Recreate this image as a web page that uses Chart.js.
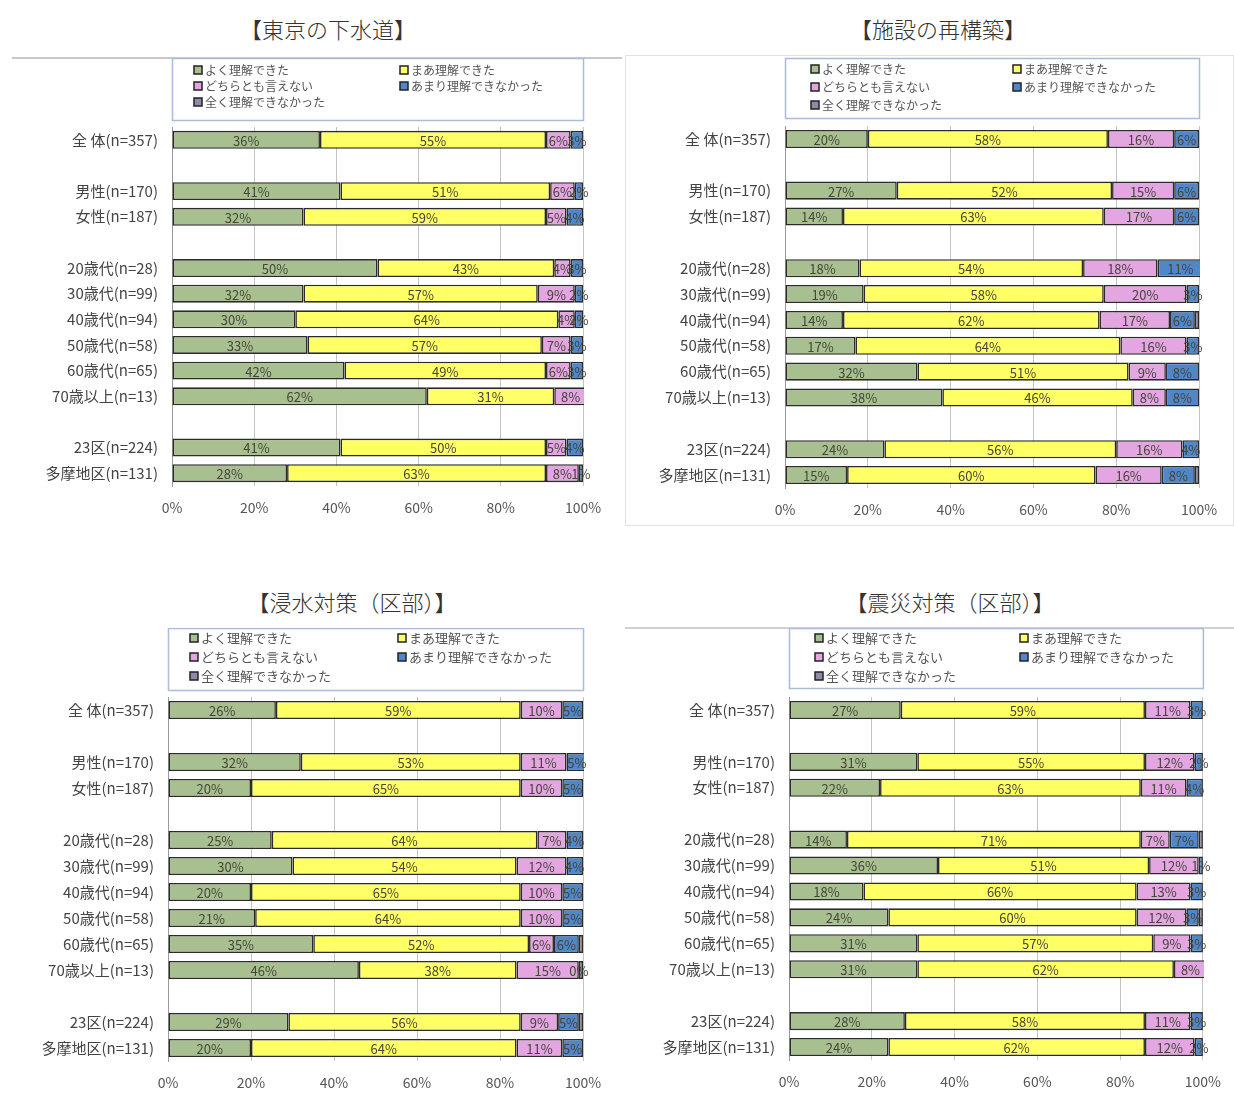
<!DOCTYPE html>
<html>
<head>
<meta charset="utf-8">
<script src="https://cdn.jsdelivr.net/npm/chart.js@4/dist/chart.umd.min.js"></script>
<style>
  body { margin:0; background:#fff; width:1234px; height:1095px; position:relative; overflow:hidden;
         font-family:"Noto Sans CJK JP","Noto Sans",sans-serif; }
  .title { position:absolute; font-size:22px; font-weight:300; color:#333; transform:translate(-50%,-50%); white-space:nowrap; }
  canvas { position:absolute; }
  .line { position:absolute; }
</style>
</head>
<body>
<div class="line" style="left:12px;top:57px;width:610px;height:0;border-top:2px solid #c8c8c8"></div>
<div class="line" style="left:625px;top:55px;width:607px;height:469px;border:1px solid #e2e2e2"></div>
<div class="line" style="left:625px;top:627px;width:609px;height:0;border-top:2px solid #d0d0d0"></div>

<div class="title" style="left:328px;top:28px">【東京の下水道】</div>
<div class="title" style="left:938px;top:28px">【施設の再構築】</div>
<div class="title" style="left:352px;top:601px">【浸水対策（区部）】</div>
<div class="title" style="left:950px;top:601px">【震災対策（区部）】</div>

<canvas id="c1"></canvas>
<canvas id="c2"></canvas>
<canvas id="c3"></canvas>
<canvas id="c4"></canvas>

<script>
// Row labels shared by all four charts (empty strings are spacer rows)
const categories = ['全 体(n=357)', '', '男性(n=170)', '女性(n=187)', '',
  '20歳代(n=28)', '30歳代(n=99)', '40歳代(n=94)', '50歳代(n=58)', '60歳代(n=65)', '70歳以上(n=13)', '',
  '23区(n=224)', '多摩地区(n=131)'];
const seriesNames = ['よく理解できた', 'まあ理解できた', 'どちらとも言えない', 'あまり理解できなかった', '全く理解できなかった'];
const seriesColors = ['#a8c08f', '#ffff66', '#e3a6e0', '#4f87c9', '#8e8aa8'];
const tickLabels = ['0%', '20%', '40%', '60%', '80%', '100%'];

// 【東京の下水道】
const sewerGood    = [36, null, 41, 32, null, 50, 32, 30, 33, 42, 62, null, 41, 28];
const sewerFair    = [55, null, 51, 59, null, 43, 57, 64, 57, 49, 31, null, 50, 63];
const sewerNeutral = [ 6, null,  6,  5, null,  4,  9,  4,  7,  6,  8, null,  5,  8];
const sewerPoor    = [ 3, null,  2,  4, null,  3,  2,  2,  3,  3, null, null, 4,  1];
const sewerNone    = [ 0, null,  0,  0, null,  0,  0,  0,  0,  0,  0, null,  0,  0];

// 【施設の再構築】
const rebuildGood    = [20, null, 27, 14, null, 18, 19, 14, 17, 32, 38, null, 24, 15];
const rebuildFair    = [58, null, 52, 63, null, 54, 58, 62, 64, 51, 46, null, 56, 60];
const rebuildNeutral = [16, null, 15, 17, null, 18, 20, 17, 16,  9,  8, null, 16, 16];
const rebuildPoor    = [ 6, null,  6,  6, null, 11,  3,  6,  3,  8,  8, null,  4,  8];
const rebuildNone    = [ 0, null,  0,  0, null,  0,  0,  1,  0,  0,  0, null,  0,  1];

// 【浸水対策（区部）】
const floodGood    = [26, null, 32, 20, null, 25, 30, 20, 21, 35, 46, null, 29, 20];
const floodFair    = [59, null, 53, 65, null, 64, 54, 65, 64, 52, 38, null, 56, 64];
const floodNeutral = [10, null, 11, 10, null,  7, 12, 10, 10,  6, 15, null,  9, 11];
const floodPoor    = [ 5, null,  5,  5, null,  4,  4,  5,  5,  6,  0, null,  5,  5];
const floodNone    = [ 0, null,  0,  0, null,  0,  0,  0,  0,  1,  1, null,  1,  0];

// 【震災対策（区部）】
const quakeGood    = [27, null, 31, 22, null, 14, 36, 18, 24, 31, 31, null, 28, 24];
const quakeFair    = [59, null, 55, 63, null, 71, 51, 66, 60, 57, 62, null, 58, 62];
const quakeNeutral = [11, null, 12, 11, null,  7, 12, 13, 12,  9,  8, null, 11, 12];
const quakePoor    = [ 3, null,  2,  4, null,  7,  1,  3,  3,  3, null, null, 3,  2];
const quakeNone    = [ 0, null,  0,  0, null,  1,  0,  0,  1,  0,  0, null,  0,  0];

const FONT = '"Noto Sans CJK JP","Noto Sans",sans-serif';
Chart.defaults.font.family = FONT;

// Boxed two-column legend drawn above the plot area
const legendBox = {
  id: 'legendBox',
  afterDraw(chart, args, o) {
    const ctx = chart.ctx, a = chart.chartArea;
    ctx.save();
    ctx.strokeStyle = '#a9bcd8';
    ctx.lineWidth = 1.5;
    ctx.strokeRect(a.left + 0.5, o.top + 0.5, a.right - a.left, o.bottom - o.top);
    ctx.font = o.fontSize + 'px ' + FONT;
    ctx.textBaseline = 'middle';
    chart.data.datasets.forEach((ds, i) => {
      const col = i % 2, row = Math.floor(i / 2);
      const ix = a.left + o.col1 + col * o.colGap;
      const iy = o.top + o.rowStart + row * o.rowGap;
      ctx.fillStyle = ds.backgroundColor;
      ctx.fillRect(ix, iy - 4, 8, 8);
      ctx.strokeStyle = '#222';
      ctx.lineWidth = 1.5;
      ctx.strokeRect(ix, iy - 4, 8, 8);
      ctx.fillStyle = '#555';
      ctx.fillText(ds.label, ix + 11, iy);
    });
    ctx.restore();
  }
};

// Percentage text centred on each segment
const segLabels = {
  id: 'segLabels',
  afterDatasetsDraw(chart) {
    const ctx = chart.ctx;
    ctx.save();
    ctx.font = '13px ' + FONT;
    ctx.fillStyle = '#45453a';
    ctx.textAlign = 'center';
    ctx.textBaseline = 'middle';
    chart.data.datasets.forEach((ds, di) => {
      if (di > 3) return;
      chart.getDatasetMeta(di).data.forEach((bar, i) => {
        const v = ds.data[i];
        if (v === null || v === undefined) return;
        const p = bar.getProps(['x', 'base', 'y'], true);
        ctx.fillText(v + '%', (p.x + p.base) / 2, p.y + 1);
      });
    });
    ctx.restore();
  }
};

function makePanel(p) {
  const cv = document.getElementById(p.id);
  cv.width = p.canvas.width; cv.height = p.canvas.height;
  cv.style.left = p.canvas.left + 'px'; cv.style.top = p.canvas.top + 'px';
  const axisH = 40;
  const datasets = p.series.map((vals, i) => ({
    label: seriesNames[i],
    data: vals,
    backgroundColor: seriesColors[i],
    borderColor: '#2b2b2b',
    borderWidth: 1.6,
    borderSkipped: false,
    clip: 1
  }));
  new Chart(cv, {
    type: 'bar',
    data: { labels: categories, datasets },
    options: {
      indexAxis: 'y',
      responsive: false,
      animation: false,
      devicePixelRatio: 1,
      categoryPercentage: 1,
      barPercentage: 0.7,
      layout: { padding: {
        left: 0,
        top: p.plot.top - p.canvas.top,
        right: p.canvas.left + p.canvas.width - p.plot.right,
        bottom: p.canvas.top + p.canvas.height - p.plot.bottom - axisH
      } },
      plugins: {
        legend: { display: false },
        tooltip: { enabled: false },
        legendBox: p.legend
      },
      scales: {
        x: {
          stacked: true, min: 0, max: 100,
          afterFit(s) { s.height = axisH; },
          ticks: { stepSize: 20, padding: 13, color: '#555', font: { size: 14 },
                   callback: v => tickLabels[Math.round(v / 20)] },
          grid: { color: '#c4c4c4', drawTicks: false },
          border: { display: false }
        },
        y: {
          stacked: true,
          afterFit(s) { s.width = p.plot.left - p.canvas.left; },
          ticks: { padding: 14, color: '#444', font: { size: 15 }, autoSkip: false },
          grid: { display: false, drawTicks: false },
          border: { display: true, color: '#9a9a9a', width: 1 }
        }
      }
    },
    plugins: [legendBox, segLabels]
  });
}

makePanel({
  id: 'c1',
  canvas: { left: 12, top: 58, width: 608, height: 467 },
  plot: { left: 172, right: 583, top: 127, bottom: 486 },
  legend: { top: 0, bottom: 62, col1: 22, colGap: 206, rowStart: 12, rowGap: 16, fontSize: 12 },
  series: [sewerGood, sewerFair, sewerNeutral, sewerPoor, sewerNone]
});
makePanel({
  id: 'c2',
  canvas: { left: 625, top: 55, width: 609, height: 470 },
  plot: { left: 785, right: 1199, top: 126, bottom: 488 },
  legend: { top: 3, bottom: 63, col1: 26, colGap: 202, rowStart: 11, rowGap: 18, fontSize: 12 },
  series: [rebuildGood, rebuildFair, rebuildNeutral, rebuildPoor, rebuildNone]
});
makePanel({
  id: 'c3',
  canvas: { left: 12, top: 628, width: 608, height: 467 },
  plot: { left: 168, right: 583, top: 697, bottom: 1061 },
  legend: { top: 0, bottom: 62, col1: 22, colGap: 208, rowStart: 10, rowGap: 19, fontSize: 13 },
  series: [floodGood, floodFair, floodNeutral, floodPoor, floodNone]
});
makePanel({
  id: 'c4',
  canvas: { left: 625, top: 628, width: 609, height: 467 },
  plot: { left: 789, right: 1203, top: 697, bottom: 1060 },
  legend: { top: 0, bottom: 60, col1: 26, colGap: 205, rowStart: 10, rowGap: 19, fontSize: 13 },
  series: [quakeGood, quakeFair, quakeNeutral, quakePoor, quakeNone]
});
</script>
</body>
</html>
